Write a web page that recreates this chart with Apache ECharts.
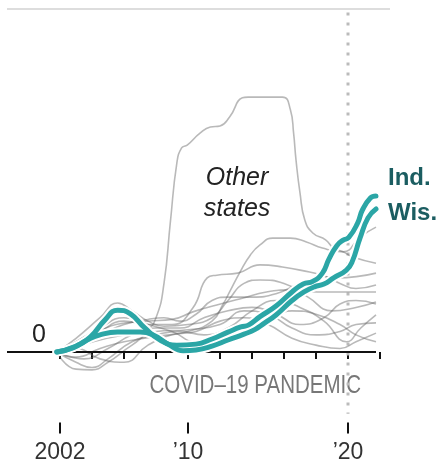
<!DOCTYPE html>
<html>
<head>
<meta charset="utf-8">
<script src="https://cdn.jsdelivr.net/npm/echarts@6/dist/echarts.min.js"></script>
<style>
  html, body { margin: 0; padding: 0; background: #fff; }
  #chart { width: 440px; height: 466px; }
</style>
</head>
<body>
<div id="chart"></div>
<script>
'use strict';

// [year, change since 2002]
const indData = [[2001.8,0],[2002.9,1.5],[2003.9,4.4],[2004.8,9.3],[2005.6,12.2],[2006.4,11.1],[2007.3,7.0],[2008.25,3.5],[2009.3,2.0],[2010.5,2.3],[2011.5,3.8],[2012.5,5.8],[2013.3,7.3],[2013.8,7.9],[2014.5,10.3],[2015.5,13.4],[2016.5,17.5],[2017.2,19.8],[2017.8,20.6],[2018.4,23.0],[2018.8,27],[2019.3,31],[2019.7,32.6],[2020.05,33.4],[2020.6,37.6],[2020.9,41.4],[2021.4,44.9],[2021.75,45.5]];
const wisData = [[2001.8,0],[2002.8,1.2],[2003.7,3.5],[2004.5,5.0],[2005.6,5.8],[2007,5.8],[2007.8,5.0],[2008.75,2.3],[2009.7,0.4],[2010.5,0.6],[2011.5,1.7],[2012.5,3.5],[2013.5,5.2],[2014.2,6.6],[2014.8,8.5],[2015.5,10.8],[2016.5,15.0],[2017.25,17.5],[2017.9,19.0],[2018.5,19.8],[2019.1,21.6],[2019.9,23.9],[2020.25,26.2],[2020.75,33.2],[2021.25,39.1],[2021.75,41.7]];
const otherStates = [
  [[2001.8,0],[2003,1.5],[2004.5,3.5],[2006,5],[2007.4,6.5],[2008,10],[2008.5,20],[2008.9,38],[2009.3,55],[2009.6,59.5],[2009.95,60.3],[2010.75,63.8],[2011.4,65.6],[2012,65.9],[2012.6,68.5],[2013.4,74.1],[2013.75,74.3],[2015.9,74.3],[2016.4,70.6],[2016.6,63.8],[2016.75,56],[2017,46.4],[2017.3,38.5],[2017.8,34.7],[2018.6,32.7],[2019.1,30.3],[2019.7,29.2],[2020.3,27.7],[2021.75,25.9]],
  [[2001.8,0],[2003,-1.5],[2004.5,1],[2006,3],[2008,4.5],[2010,6],[2011.5,9],[2012.2,14],[2012.6,17.5],[2013.25,23.3],[2013.9,28.3],[2014.5,31.2],[2015.3,33.2],[2016.4,33.2],[2017.4,32.1],[2018.4,30.3],[2019.7,29.2],[2020.75,33.5],[2021.75,36.4]],
  [[2001.8,0],[2003,2],[2004.5,6],[2006,9],[2007.5,8],[2009,8],[2010.3,12.8],[2011.2,21.6],[2011.8,22.4],[2013.1,23],[2014.5,25.4],[2015.9,24.8],[2017.6,23.3],[2019.3,21.6],[2021.75,23]],
  [[2001.8,0],[2003.5,3],[2005.5,8],[2007.5,9],[2009,9.5],[2010.3,11.7],[2011.8,13.7],[2013.4,15.7],[2014.9,17.5],[2016.4,18.1],[2018.1,17.5],[2020.1,17.5],[2021.75,17.5]],
  [[2001.8,0],[2003,4],[2004.5,10],[2005.6,14.3],[2006.5,12],[2007.5,9],[2008.5,7.5],[2010,8],[2011.5,10],[2012.5,15],[2013.5,20],[2014.5,21],[2016,20],[2017.5,16],[2019,12],[2020.5,13],[2021.75,14.6]],
  [[2001.8,0],[2003,-3],[2004,-4.5],[2005,-2],[2006.5,3],[2008,5],[2009.5,6],[2011,5],[2012.5,7],[2014,12],[2015.5,15],[2017,13],[2018.5,9],[2019.9,3],[2020.8,7],[2021.75,10.8]],
  [[2001.8,0],[2003,-5],[2004,-5.2],[2005,-3],[2006.5,2],[2008,6],[2010,6.5],[2012,8],[2013.5,12],[2015,11],[2016.5,7],[2018,5],[2019.5,6],[2020.5,8],[2021.75,8.5]],
  [[2001.8,0],[2003,1],[2004.5,-2],[2006,-3],[2007.5,2],[2009,5],[2010.5,6],[2012,9],[2013.5,10],[2015,8],[2016.5,4],[2018,2],[2019.5,1],[2020.5,3],[2021.75,5.5]],
  [[2001.8,0],[2003,2],[2004.5,5],[2006,8],[2007.5,9.5],[2008.5,10],[2009.5,9],[2010.5,11],[2011.5,15],[2012.5,16],[2014,16],[2015.5,17],[2017,20],[2018.5,22],[2019.5,20],[2020.5,18.5],[2021.75,19.5]],
  [[2001.8,0],[2003.5,-2],[2005,1],[2006.5,5],[2008,7],[2009.5,7],[2011,10],[2012.5,12],[2014,13],[2015.5,11],[2017,8],[2018.5,10],[2019.5,14],[2020.5,15],[2021.75,14]],
  [[2001.8,0],[2003,3],[2004.5,7],[2006,10],[2007.5,8],[2009,6],[2010.5,3],[2012,4],[2013.5,6],[2015,9],[2016.5,12],[2018,11],[2019.5,8],[2020.5,5],[2021.75,3]]
];
const minorTicks = [2002, 2004, 2006, 2008, 2010, 2012, 2014, 2016, 2018, 2020, 2022];
const majorTicks = [2002, 2010, 2020];
const tickLabels = { 2002: '2002', 2010: '’10', 2020: '’20' };
const xMin = 1998.6875, xMax = 2022.625, lineEnd = 2021.75;
const pandemicYear = 2020;
const topValue = 100;

const sans = '"Liberation Sans", Arial, sans-serif';
const chart = echarts.init(document.getElementById('chart'), null, { renderer: 'canvas' });

function axisX(ticks, len, labels) {
  return {
    type: 'value', min: xMin, max: xMax, position: 'bottom', offset: 2,
    axisLine: { show: false }, splitLine: { show: false },
    axisTick: { show: true, customValues: ticks, length: len, lineStyle: { color: '#111', width: 2 } },
    axisLabel: labels ? {
      show: true, customValues: majorTicks, margin: 19,
      formatter: v => tickLabels[v] || '',
      fontFamily: sans, fontSize: 23, color: '#333'
    } : { show: false }
  };
}

const grayLines = otherStates.map(d => ({
  type: 'line', data: d, smooth: 0.5, symbol: 'none', silent: true, z: 2,
  lineStyle: { color: 'rgba(100,100,100,0.45)', width: 1.6 }
}));

function stateLine(name, data, offset) {
  return [
    { type: 'line', data: data, smooth: 0.5, symbol: 'none', silent: true, z: 4,
      lineStyle: { color: '#fff', width: 9, cap: 'round' } },
    { type: 'line', name: name, data: data, smooth: 0.5, symbol: 'none', silent: true, z: 5,
      lineStyle: { color: '#2ba6a6', width: 5, cap: 'round' },
      endLabel: { show: true, formatter: name, distance: 0, offset: offset,
        fontFamily: sans, fontWeight: 'bold', fontSize: 24, color: '#1b5d61' } }
  ];
}

chart.setOption({
  animation: false,
  grid: { left: 7, right: 50, top: 9, bottom: 45.4 },
  xAxis: [axisX(minorTicks, 7, false), axisX(majorTicks, 11, true)],
  yAxis: {
    type: 'value', min: -20, max: topValue, interval: 20,
    axisLine: { show: false }, axisTick: { show: false }, splitLine: { show: false },
    axisLabel: { inside: true, margin: 25, verticalAlign: 'bottom', padding: [0, 0, 4, 0],
      formatter: v => v === 0 ? '0' : '', fontFamily: sans, fontSize: 25, color: '#222' }
  },
  graphic: [
    { type: 'text', x: 237, y: 194, silent: true,
      style: { text: 'Other\nstates', font: 'italic 25px "Liberation Sans", sans-serif',
        fill: '#222', textAlign: 'center', textVerticalAlign: 'middle', lineHeight: 31 } },
    { type: 'text', x: 361, y: 386, scaleX: 0.82, silent: true,
      style: { text: 'COVID–19 PANDEMIC', font: '25px "Liberation Sans", sans-serif', fill: '#777',
        textAlign: 'right', textVerticalAlign: 'middle' } }
  ],
  series: [
    { type: 'line', data: [[xMin, topValue], [xMax, topValue]], symbol: 'none', silent: true, z: 1,
      lineStyle: { color: '#ddd', width: 2 } },
    { type: 'line', data: [[pandemicYear, 99], [pandemicYear, -18]], symbol: 'none', silent: true, z: 1,
      lineStyle: { color: '#bbb', width: 3, type: [3, 7] } },
    ...grayLines,
    { type: 'line', data: [[xMin, 0], [lineEnd, 0]], symbol: 'none', silent: true, z: 3,
      lineStyle: { color: '#111', width: 2 } },
    ...stateLine('Wis.', wisData, [12, 4]),
    ...stateLine('Ind.', indData, [12, -18])
  ]
});
</script>
</body>
</html>
